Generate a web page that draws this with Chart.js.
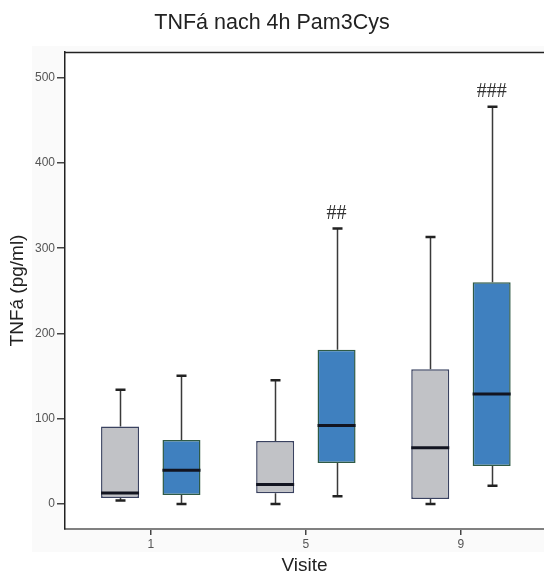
<!DOCTYPE html>
<html><head><meta charset="utf-8">
<script src="https://cdn.jsdelivr.net/npm/chart.js@4"></script>
<style>html,body{margin:0;padding:0;background:#fff}</style>
</head><body>
<canvas id="c" width="544" height="573" style="display:block;width:544px;height:573px"></canvas>
<script>
// ---- data ----
const visits = [1, 5, 9];
const yTicks = [0, 100, 200, 300, 400, 500];

const grayMin = [4, 0, 0];
const grayQ1  = [7, 12.5, 6];
const grayMed = [13, 23, 66];
const grayQ3  = [91, 74, 158];
const grayMax = [134, 145, 313];

const blueMin = [0, 9, 21.5];
const blueQ1  = [10.5, 48, 44.5];
const blueMed = [39.5, 92, 129];
const blueQ3  = [75, 181, 260];
const blueMax = [150.5, 323, 466];

const blueMarks = ['', '##', '###'];

const stats = [
  {min: grayMin, q1: grayQ1, med: grayMed, q3: grayQ3, max: grayMax, marks: null},
  {min: blueMin, q1: blueQ1, med: blueMed, q3: blueQ3, max: blueMax, marks: blueMarks}
];

const boxData = (q1, q3) => visits.map((v, i) => ({x: v, y: [q1[i], q3[i]]}));

const boxPlugin = {
  id: 'boxplot',
  beforeDraw(chart) {
    const ctx = chart.ctx, a = chart.chartArea;
    ctx.save();
    ctx.fillStyle = '#fafafa';
    ctx.fillRect(32, 46, 544 - 32, 552 - 46);
    ctx.fillStyle = '#ffffff';
    ctx.fillRect(a.left, a.top, a.right - a.left, a.bottom - a.top);
    ctx.restore();
  },
  beforeDatasetsDraw(chart) {
    const ctx = chart.ctx, y = chart.scales.y;
    chart.data.datasets.forEach((ds, di) => {
      const s = stats[di];
      chart.getDatasetMeta(di).data.forEach((bar, i) => {
        const x = Math.round(bar.x) + 0.5;
        const pMax = y.getPixelForValue(s.max[i]), pMin = y.getPixelForValue(s.min[i]);
        const pQ3 = y.getPixelForValue(s.q3[i]), pQ1 = y.getPixelForValue(s.q1[i]);
        ctx.save();
        ctx.strokeStyle = '#3a3a3a';
        ctx.lineWidth = 1.5;
        ctx.beginPath();
        ctx.moveTo(x, pQ3); ctx.lineTo(x, pMax);
        ctx.moveTo(x, pQ1); ctx.lineTo(x, pMin);
        ctx.stroke();
        ctx.lineWidth = 2.5;
        ctx.strokeStyle = '#222';
        ctx.beginPath();
        ctx.moveTo(x - 5, pMax); ctx.lineTo(x + 5, pMax);
        ctx.moveTo(x - 5, pMin); ctx.lineTo(x + 5, pMin);
        ctx.stroke();
        ctx.restore();
      });
    });
  },
  afterDatasetsDraw(chart) {
    const ctx = chart.ctx, y = chart.scales.y, a = chart.chartArea;
    chart.data.datasets.forEach((ds, di) => {
      const s = stats[di];
      chart.getDatasetMeta(di).data.forEach((bar, i) => {
        const pMed = y.getPixelForValue(s.med[i]);
        ctx.save();
        ctx.strokeStyle = '#121420';
        ctx.lineWidth = 3;
        ctx.beginPath();
        ctx.moveTo(bar.x - bar.width / 2, pMed);
        ctx.lineTo(bar.x + bar.width / 2, pMed);
        ctx.stroke();
        if (s.marks && s.marks[i]) {
          ctx.fillStyle = '#333';
          ctx.font = '20px "Liberation Serif", serif';
          ctx.textAlign = 'center';
          ctx.textBaseline = 'middle';
          ctx.fillText(s.marks[i], bar.x, y.getPixelForValue(s.max[i]) - 15);
        }
        ctx.restore();
      });
    });
    ctx.save();
    ctx.strokeStyle = '#222';
    ctx.lineWidth = 1.5;
    ctx.beginPath();
    ctx.moveTo(a.left, a.top + 0.5);
    ctx.lineTo(a.right, a.top + 0.5);
    ctx.stroke();
    ctx.restore();
  }
};

new Chart(document.getElementById('c'), {
  type: 'bar',
  data: {
    datasets: [
      {data: boxData(grayQ1, grayQ3), backgroundColor: '#c1c2c6', borderColor: '#3a4260', borderWidth: 1.5, borderSkipped: false},
      {data: boxData(blueQ1, blueQ3), backgroundColor: '#3f80bf', borderColor: '#2f5a45', borderWidth: 1.5, borderSkipped: false}
    ]
  },
  options: {
    responsive: false,
    devicePixelRatio: 1,
    animation: false,
    categoryPercentage: 0.792,
    barPercentage: 0.619,
    layout: {padding: 0},
    plugins: {
      legend: {display: false},
      tooltip: {enabled: false},
      title: {
        display: true,
        text: 'TNFá nach 4h Pam3Cys',
        color: '#222',
        font: {family: '"Liberation Sans", Arial, sans-serif', size: 21.5, weight: 'normal', lineHeight: 1.2},
        padding: {top: 10.1, bottom: 16.1}
      }
    },
    scales: {
      x: {
        type: 'linear',
        offset: false,
        min: -1.212,
        max: 11.142,
        afterBuildTicks(scale) { scale.ticks = visits.map(v => ({value: v})); },
        afterFit(scale) { scale.height = 44; },
        grid: {offset: false, drawOnChartArea: false, drawTicks: true, tickLength: 6, color: '#444', lineWidth: 1.5},
        border: {display: true, color: '#808080', width: 2},
        ticks: {color: '#555', font: {family: '"Liberation Sans", Arial, sans-serif', size: 12}, padding: 2, maxRotation: 0},
        title: {display: true, text: 'Visite', color: '#222',
          font: {family: '"Liberation Sans", Arial, sans-serif', size: 19, lineHeight: 0.8}, padding: {top: 0, bottom: 0}}
      },
      y: {
        min: -29.3,
        max: 530.1,
        afterBuildTicks(scale) { scale.ticks = yTicks.map(v => ({value: v})); },
        afterFit(scale) { scale.width = 65; },
        grid: {drawOnChartArea: false, drawTicks: true, tickLength: 8, color: '#444', lineWidth: 1.5},
        border: {display: true, color: '#222', width: 1.5},
        ticks: {color: '#555', font: {family: '"Liberation Sans", Arial, sans-serif', size: 12}, padding: 2},
        title: {display: true, text: 'TNFá (pg/ml)', color: '#222',
          font: {family: '"Liberation Sans", Arial, sans-serif', size: 19, lineHeight: 1.2}, padding: {top: 6.6, bottom: 0}}
      }
    }
  },
  plugins: [boxPlugin]
});
</script>
</body></html>
